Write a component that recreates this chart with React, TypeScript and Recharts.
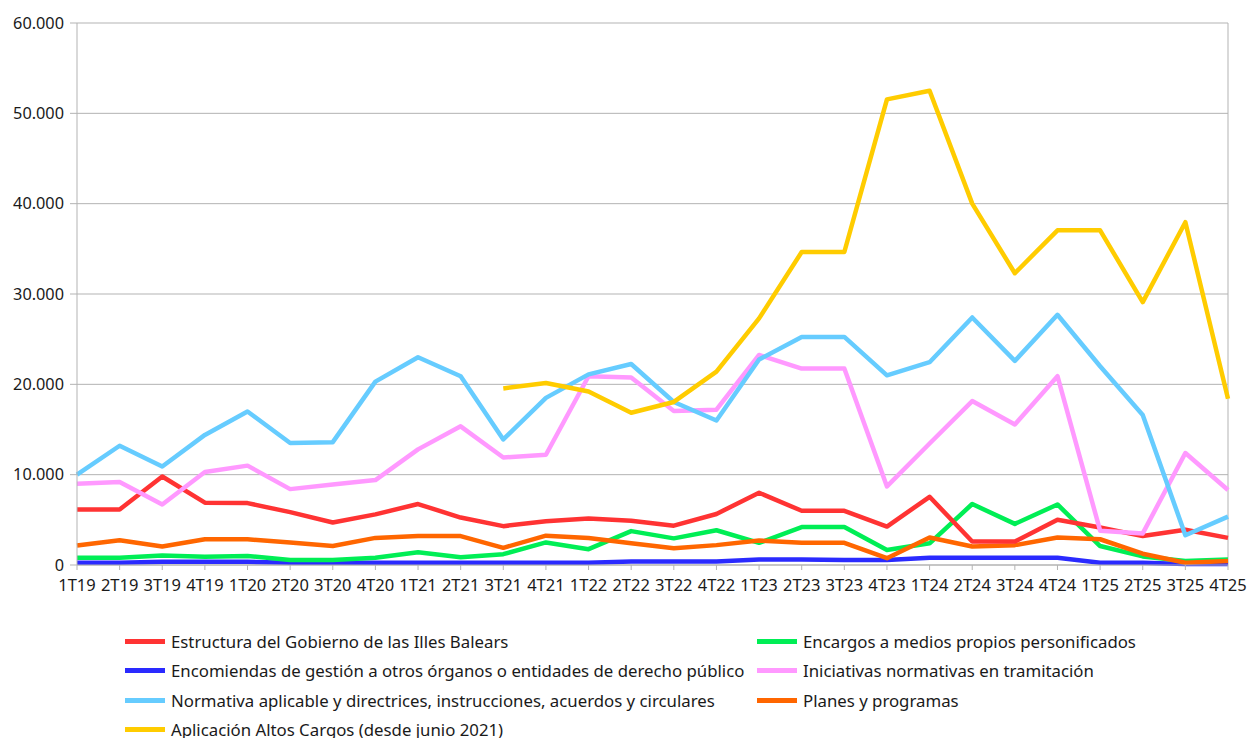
import { LineChart, Line, XAxis, YAxis, CartesianGrid, ReferenceLine } from 'recharts';

// trimestres
const trimestres = [
  '1T19', '2T19', '3T19', '4T19', '1T20', '2T20', '3T20', '4T20', '1T21', '2T21', '3T21', '4T21', '1T22', '2T22',
  '3T22', '4T22', '1T23', '2T23', '3T23', '4T23', '1T24', '2T24', '3T24', '4T24', '1T25', '2T25', '3T25', '4T25',
];

const estructura = [6150, 6150, 9800, 6900, 6850, 5850, 4700, 5600, 6750, 5250, 4300, 4850, 5150, 4900, 4350, 5650, 8000, 6000, 6000, 4250, 7550, 2600, 2600, 5000, 4150, 3200, 3900, 3000];
const encargos = [800, 800, 1050, 900, 1000, 550, 550, 800, 1400, 850, 1200, 2500, 1750, 3750, 2950, 3850, 2450, 4200, 4200, 1650, 2400, 6750, 4550, 6700, 2100, 950, 450, 600];
const encomiendas = [250, 250, 350, 350, 350, 250, 250, 250, 250, 250, 250, 250, 250, 400, 400, 400, 600, 600, 550, 550, 800, 800, 800, 800, 250, 250, 100, 100];
const iniciativas = [9000, 9200, 6700, 10300, 11000, 8400, 8900, 9400, 12800, 15350, 11900, 12200, 20900, 20750, 17050, 17200, 23250, 21750, 21750, 8700, 13450, 18150, 15550, 20900, 3800, 3500, 12400, 8300];
const normativa = [10000, 13200, 10900, 14400, 17000, 13500, 13600, 20300, 23000, 20900, 13900, 18500, 21100, 22250, 18050, 16000, 22750, 25250, 25250, 21000, 22450, 27400, 22600, 27700, 22000, 16600, 3300, 5350];
const planes = [2150, 2750, 2050, 2850, 2850, 2500, 2100, 3000, 3200, 3200, 1900, 3250, 3000, 2400, 1850, 2200, 2700, 2450, 2450, 750, 3050, 2050, 2200, 3050, 2850, 1250, 250, 450];
const altosCargos = [null, null, null, null, null, null, null, null, null, null, 19550, 20150, 19200, 16850, 18050, 21400, 27300, 34650, 34650, 51550, 52500, 40000, 32300, 37050, 37050, 29100, 37950, 18400];

const yTicks = [0, 10000, 20000, 30000, 40000, 50000, 60000];

const series = [
  { key: 'estructura', nombre: 'Estructura del Gobierno de las Illes Balears', color: '#ff3333', valores: estructura },
  { key: 'encargos', nombre: 'Encargos a medios propios personificados', color: '#00ee55', valores: encargos },
  { key: 'encomiendas', nombre: 'Encomiendas de gestión a otros órganos o entidades de derecho público', color: '#2a2aff', valores: encomiendas },
  { key: 'iniciativas', nombre: 'Iniciativas normativas en tramitación', color: '#ff99ff', valores: iniciativas },
  { key: 'normativa', nombre: 'Normativa aplicable y directrices, instrucciones, acuerdos y circulares', color: '#66ccff', valores: normativa },
  { key: 'planes', nombre: 'Planes y programas', color: '#ff6600', valores: planes },
  { key: 'altos', nombre: 'Aplicación Altos Cargos (desde junio 2021)', color: '#ffcc00', valores: altosCargos },
];

// orden de dibujo (el amarillo encima)
const ordenDibujo = ['encomiendas', 'encargos', 'planes', 'estructura', 'iniciativas', 'normativa', 'altos'];

const data = trimestres.map((t, i) => {
  const fila: Record<string, any> = { t };
  series.forEach((s) => {
    fila[s.key] = s.valores[i];
  });
  return fila;
});

const formatoMiles = (v: number) => String(v).replace(/\B(?=(\d{3})+(?!\d))/g, '.');

const fuente = '"Noto Sans", "Open Sans", sans-serif';

export default function App() {
  return (
    <div style={{ position: 'absolute', left: 0, top: 0, width: 1247, height: 738, background: '#fff', fontFamily: fuente, overflow: 'hidden' }}>
      <LineChart width={1247} height={738} data={data} margin={{ top: 23, right: 19, left: 0, bottom: 143 }}>
        <CartesianGrid vertical={false} stroke="#b3b3b3" />
        <XAxis
          dataKey="t"
          height={30}
          stroke="#b3b3b3"
          tickSize={5}
          tickMargin={9}
          interval={0}
          tick={{ fill: '#1a1a1a', fontSize: 16.5, fontFamily: fuente }}
        />
        <YAxis
          width={77}
          domain={[0, 60000]}
          ticks={yTicks}
          stroke="#b3b3b3"
          tickSize={7}
          tickMargin={6}
          tickFormatter={formatoMiles}
          tick={{ fill: '#1a1a1a', fontSize: 16.3, fontFamily: fuente }}
        />
        <ReferenceLine x="4T25" stroke="#b3b3b3" />
        {ordenDibujo.map((k) => {
          const s = series.find((x) => x.key === k)!;
          return (
            <Line
              key={k}
              type="linear"
              dataKey={k}
              stroke={s.color}
              strokeWidth={4.5}
              dot={false}
              activeDot={false}
              isAnimationActive={false}
              strokeLinejoin="round"
            />
          );
        })}
      </LineChart>
      {/* leyenda en dos columnas */}
      {series.map((s, i) => {
        const col = i % 2;
        const fila = Math.floor(i / 2);
        return (
          <div
            key={s.key}
            style={{
              position: 'absolute',
              left: col === 0 ? 125 : 757,
              top: 630 + fila * 29.5,
              height: 22,
              display: 'flex',
              alignItems: 'center',
              fontSize: 16.8,
              color: '#1a1a1a',
              whiteSpace: 'nowrap',
            }}
          >
            <span style={{ display: 'inline-block', width: 40, height: 5, background: s.color, marginRight: 6 }} />
            {s.nombre}
          </div>
        );
      })}
    </div>
  );
}
